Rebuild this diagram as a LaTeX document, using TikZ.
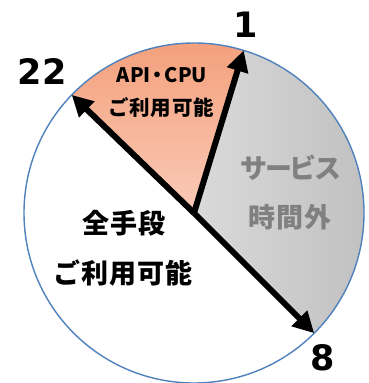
\documentclass[tikz,border=0pt]{standalone}
\usepackage{fontspec}
\usetikzlibrary{arrows.meta}
\setmainfont{DejaVu Sans}
\newfontfamily\jp{Noto Sans CJK JP}[LetterSpace=4]
\newfontfamily\jpk{Noto Sans CJK JP}[LetterSpace=-9]
\newfontfamily\jpn{Noto Sans CJK JP}
\definecolor{rimblue}{RGB}{79,129,189}
\definecolor{orTop}{RGB}{243,158,120}
\definecolor{orBot}{RGB}{250,202,184}
\definecolor{grL}{RGB}{218,218,218}
\definecolor{grR}{RGB}{190,190,190}
\definecolor{txtgray}{RGB}{128,128,128}
\tikzset{
  arr/.style={line width=6pt, -{Triangle[length=21pt,width=21pt]}},
  hour/.style={font=\fontsize{35}{35}\bfseries\selectfont, inner sep=0pt},
  bigjp/.style={font=\fontsize{27}{27}\jp\bfseries\selectfont, inner sep=0pt},
  smalljp/.style={font=\fontsize{20.5}{20.5}\jp\bfseries\selectfont, inner sep=0pt},
}
\begin{document}
\begin{tikzpicture}[x=1pt,y=1pt]
\useasboundingbox (0,0) rectangle (368,383);
\coordinate (C) at (194,170);
\coordinate (t22) at (71.7,288.1);
\coordinate (t1) at (243.7,332.6);
\coordinate (t8) at (314.2,49.8);
% sectors
\fill[white] (C) circle[radius=170];
\shade[top color=orTop, bottom color=orBot] (C) -- (t22) arc[start angle=136, end angle=73, radius=170] -- cycle;
\shade[left color=grL, right color=grR] (C) -- (t1) arc[start angle=73, end angle=-45, radius=170] -- cycle;
\draw[rimblue, line width=1.4pt] (C) circle[radius=170];
% arrows
\draw[arr] (C) -- (t22);
\draw[arr] (C) -- (t1);
\draw[arr] (C) -- (t8);
% hour labels
\node[hour] (l22) at (42,311) {22};
\node[hour] (l1) at (246,358) {1};
\node[hour] (l8) at (323,25) {8};
% sector labels
\node[font=\fontsize{20}{20}\jpn\bfseries\selectfont, inner sep=0pt] (api) at (162,308) {API\kern-3pt・\kern-3pt CPU};
\node[smalljp] (apiuse) at (161,275) {ご利用可能};
\node[font=\fontsize{27}{27}\jpk\bfseries\selectfont, inner sep=0pt, text=txtgray] (svc) at (291,215) {サービス};
\node[bigjp, text=txtgray] (out) at (290,166) {時間外};
\node[bigjp] (all) at (124,160) {全手段};
\node[bigjp] (alluse) at (123,110) {ご利用可能};
\end{tikzpicture}
\end{document}
